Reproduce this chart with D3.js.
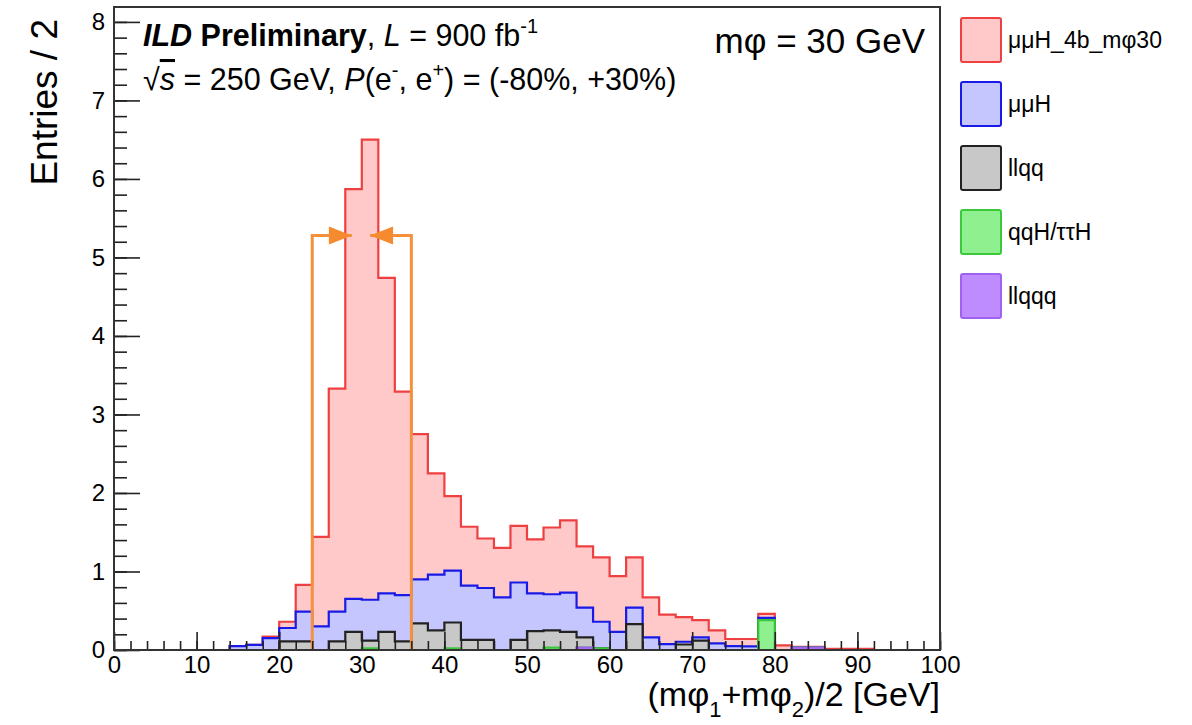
<!DOCTYPE html>
<head>
<meta charset="utf-8">
<title>ILD mphi 30 GeV stack</title>
<script src="https://d3js.org/d3.v7.min.js"></script>
<style>
    body { margin: 0; background: #fff; }
    text { font-family: "Liberation Sans", Arial, Helvetica, sans-serif; fill: #000; }
    .tick text { font-size: 24px; }
    .domain { display: none; }
    .tick line { stroke: #222; stroke-width: 1.6px; }
    text.legLabel { font-size: 23px; }
</style>
</head>
<body>
<script>
// bin contents (bin width 2 GeV, 0..100)
const signal = [0,0,0,0,0,0,0,0,0,0.02, 0.08,0.34,1.14,2.84,5.22,5.86,4.02,2.59,1.85,1.29,
                0.95,0.75,0.63,0.63,0.72,0.69,0.85,0.92,0.78,0.82, 0.71,0.64,0.51,0.375,0.315,0.22,0.165,0.09,0.095,0.05,
                0.06,0.01,0.01,0.015,0.015,0.015,0,0,0,0];
const muH    = [0,0,0,0,0,0,0,0.05,0.065,0.15, 0.17,0.38,0.30,0.38,0.42,0.52,0.49,0.59,0.56,0.71,
                0.66,0.69,0.66,0.67,0.73,0.48,0.46,0.50,0.38,0.34, 0.23,0.21,0.16,0.075,0.035,0.04,0.085,0.05,0.045,0.03,
                0,0,0,0,0,0,0,0,0,0];
const llqq   = [0,0,0,0,0,0,0,0,0,0, 0.11,0.11,0,0.11,0.23,0.10,0.23,0.11,0.34,0.25,
                0.33,0.13,0.13,0,0.13,0.24,0.22,0.23,0.13,0, 0,0.33,0,0,0.07,0.12,0,0,0,0,
                0,0,0,0,0,0,0,0,0,0];
const qqH    = [0,0,0,0,0,0,0,0,0,0, 0,0,0,0,0,0.02,0,0,0,0,
                0.02,0,0,0,0,0,0.03,0,0,0.02, 0,0,0,0,0,0,0,0,0,0.38,
                0,0,0,0,0,0,0,0,0,0];
const llqqq  = [0,0,0,0,0,0,0,0,0,0, 0,0,0,0,0,0,0,0,0,0,
                0,0,0,0,0,0,0,0,0.03,0, 0,0,0,0,0,0,0,0,0,0,
                0,0.03,0.03,0,0,0,0,0,0,0];

const binWidth = 2;
const series = [
    {key: "llqqq",  label: "llqqq",          fill: "#bf8cff", stroke: "#a060f0"},
    {key: "qqH",    label: "qqH/\u03c4\u03c4H",   fill: "#8ff08f", stroke: "#3cc83c"},
    {key: "llqq",   label: "llqq",           fill: "#c8c8c8", stroke: "#222222"},
    {key: "muH",    label: "\u03bc\u03bcH",       fill: "#c6c6ff", stroke: "#1a1ae6"},
    {key: "signal", label: "\u03bc\u03bcH_4b_m\u03c630", fill: "#ffc9c9", stroke: "#ee4040"}
];
const legendOrder = ["signal", "muH", "llqq", "qqH", "llqqq"];

// mass window cut
const cutEdges = [24, 36];
const cutHeight = 5.28;
const arrowTips = [28.8, 31.0];

const xTicks = d3.range(0, 101, 10);
const yTicks = d3.range(0, 9, 1);

const svg = d3.select("body").append("svg")
    .attr("width", 1192)
    .attr("height", 725);

const x = d3.scaleLinear().domain([0, 100]).range([114, 940]);
const y = d3.scaleLinear().domain([0, 8.19]).range([650, 7]);

const rows = signal.map((v, i) => ({
    lo: i * binWidth,
    signal: v, muH: muH[i], llqq: llqq[i], qqH: qqH[i], llqqq: llqqq[i]
}));

const stacked = d3.stack().keys(series.map(s => s.key))(rows);

const line = d3.line().x(p => x(p[0])).y(p => y(p[1]));

function stepPoints(layer) {
    let pts = [[0, 0]];
    layer.forEach(d => {
        pts.push([d.data.lo, d[1]]);
        pts.push([d.data.lo + binWidth, d[1]]);
    });
    pts.push([100, 0]);
    return pts;
}

// ROOT style: cumulative histograms, top of stack drawn first
const hg = svg.append("g").attr("class", "hists");
stacked.slice().reverse().forEach(layer => {
    const s = series.find(d => d.key === layer.key);
    hg.append("path")
        .attr("d", line(stepPoints(layer)))
        .attr("fill", s.fill)
        .attr("stroke", s.stroke)
        .attr("stroke-width", 2.2)
        .attr("stroke-linejoin", "miter");
});

// cut lines and arrows
const orange = "#f5913e";
const cg = svg.append("g").attr("class", "cuts");
cutEdges.forEach((c, i) => {
    cg.append("path")
        .attr("d", line([[c, 0], [c, cutHeight], [arrowTips[i], cutHeight]]))
        .attr("fill", "none")
        .attr("stroke", orange)
        .attr("stroke-width", 3);
    const tip = x(arrowTips[i]), yy = y(cutHeight);
    const dir = arrowTips[i] > c ? 1 : -1;
    cg.append("path")
        .attr("d", `M${tip},${yy} L${tip - dir * 23},${yy - 9} L${tip - dir * 23},${yy + 9} Z`)
        .attr("fill", "#f58a2e");
});

// axes, ticks pointing inward
svg.append("g")
    .attr("transform", `translate(0,${y(0)})`)
    .call(d3.axisBottom(x).tickValues(d3.range(0, 101, 2)).tickSize(-9).tickFormat(""));
svg.append("g")
    .attr("transform", `translate(0,${y(0)})`)
    .call(d3.axisBottom(x).tickValues(xTicks).tickSize(-18).tickPadding(6).tickFormat(d3.format("d")));

svg.append("g")
    .attr("transform", `translate(${x(0)},0)`)
    .call(d3.axisLeft(y).tickValues(d3.range(0, 8.2, 0.2)).tickSize(-13).tickFormat(""));
svg.append("g")
    .attr("transform", `translate(${x(0)},0)`)
    .call(d3.axisLeft(y).tickValues(yTicks).tickSize(-26).tickPadding(9).tickFormat(d3.format("d")));

// frame
svg.append("rect")
    .attr("x", x(0)).attr("y", y(8.19))
    .attr("width", x(100) - x(0)).attr("height", y(0) - y(8.19))
    .attr("fill", "none")
    .attr("stroke", "#333")
    .attr("stroke-width", 2);

// axis titles
svg.append("text")
    .attr("transform", `translate(57,19) rotate(-90)`)
    .style("text-anchor", "end")
    .style("font-size", "37px")
    .text("Entries / 2");

const xt = svg.append("text")
    .attr("x", 940).attr("y", 706)
    .style("text-anchor", "end")
    .style("font-size", "34px");
xt.append("tspan").text("(m\u03c6");
xt.append("tspan").attr("dy", 11).style("font-size", "22px").text("1");
xt.append("tspan").attr("dy", -11).text("+m\u03c6");
xt.append("tspan").attr("dy", 11).style("font-size", "22px").text("2");
xt.append("tspan").attr("dy", -11).text(")/2 [GeV]");

// labels inside the frame
const t1 = svg.append("text").attr("x", 143).attr("y", 46).style("font-size", "30.5px");
t1.append("tspan").style("font-weight", "bold").style("font-style", "italic").text("ILD");
t1.append("tspan").style("font-weight", "bold").text(" Preliminary");
t1.append("tspan").text(", ");
t1.append("tspan").style("font-style", "italic").text("L");
t1.append("tspan").text(" = 900 fb");
t1.append("tspan").attr("dy", -13).style("font-size", "20px").text("-1");

const t2 = svg.append("text").attr("x", 143).attr("y", 90).style("font-size", "30.5px");
t2.append("tspan").text("\u221a");
t2.append("tspan").style("font-style", "italic").style("text-decoration", "overline").text("s");
t2.append("tspan").text(" = 250 GeV, ");
t2.append("tspan").style("font-style", "italic").text("P");
t2.append("tspan").text("(e");
t2.append("tspan").attr("dy", -13).style("font-size", "20px").text("-");
t2.append("tspan").attr("dy", 13).text(", e");
t2.append("tspan").attr("dy", -13).style("font-size", "20px").text("+");
t2.append("tspan").attr("dy", 13).text(") = (-80%, +30%)");

svg.append("text")
    .attr("x", 925).attr("y", 53)
    .style("text-anchor", "end")
    .style("font-size", "35px")
    .text("m\u03c6 = 30 GeV");

// legend
const leg = svg.append("g").attr("class", "legend");
legendOrder.forEach((k, i) => {
    const s = series.find(d => d.key === k);
    leg.append("rect")
        .attr("x", 961).attr("y", 18 + i * 64)
        .attr("width", 40).attr("height", 44)
        .attr("rx", 2)
        .attr("fill", s.fill)
        .attr("stroke", s.stroke)
        .attr("stroke-width", 2);
    leg.append("text")
        .attr("class", "legLabel")
        .attr("x", 1008).attr("y", 48 + i * 64)
        .text(s.label);
});
</script>
</body>
